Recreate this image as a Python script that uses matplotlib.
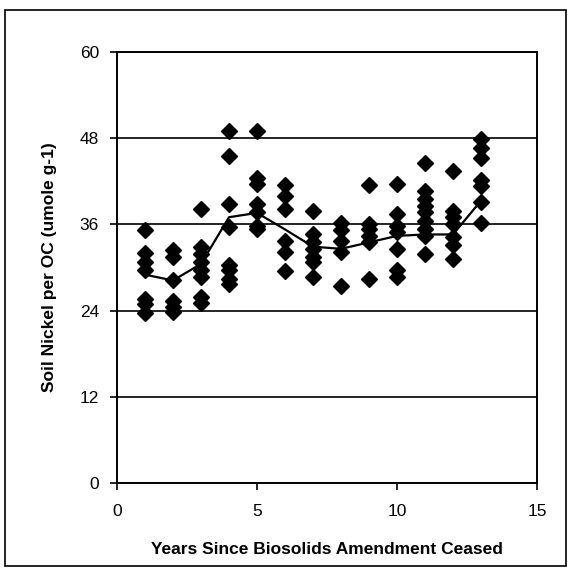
import matplotlib.pyplot as plt
from matplotlib.patches import Rectangle

plt.rcParams['font.family'] = ['Liberation Sans', 'DejaVu Sans']

years = [1, 2, 3, 4, 5, 6, 7, 8, 9, 10, 11, 12, 13]

# soil Ni per OC, individual samples per year
g1 = [35.2, 32.0, 30.8, 29.6, 25.6, 24.9, 23.6]
g2 = [32.4, 31.4, 28.2, 25.4, 24.5, 23.8]
g3 = [38.2, 32.8, 31.9, 30.7, 29.6, 28.7, 25.9, 25.0]
g4 = [49.0, 45.5, 38.9, 35.6, 30.3, 29.6, 28.4, 27.7]
g5 = [49.0, 42.5, 41.6, 38.8, 37.7, 35.8, 35.4]
g6 = [41.5, 39.9, 38.2, 33.75, 32.1, 29.5]
g7 = [37.9, 34.7, 33.5, 32.6, 31.4, 30.7, 28.7]
g8 = [36.2, 35.2, 33.75, 32.2, 27.4]
g9 = [41.5, 36.1, 35.4, 34.4, 33.5, 28.4]
g10 = [41.6, 37.5, 35.8, 34.9, 32.6, 29.6, 28.7]
g11 = [44.6, 40.7, 39.5, 38.6, 37.7, 36.5, 35.4, 34.4, 31.9]
g12 = [43.5, 37.9, 37.0, 36.1, 34.2, 33.1, 31.2]
g13 = [47.9, 46.6, 45.3, 42.2, 41.4, 39.1, 36.2]
groups = [g1, g2, g3, g4, g5, g6, g7, g8, g9, g10, g11, g12, g13]

# mean line
mean_line = [29.0, 28.2, 30.5, 37.0, 37.6, 35.3, 32.9, 32.6, 33.5, 34.4, 34.6, 34.6, 39.3]

fig = plt.figure(figsize=(5.73, 5.70), dpi=100)
ax = fig.add_axes([117/573, 1 - 483/570, 420/573, 431/570])

for yr, g in zip(years, groups):
    ax.plot([yr] * len(g), g, linestyle='none', marker='D', markersize=8,
            color='black', zorder=3)
ax.plot(years, mean_line, color='black', lw=1.6, zorder=4)

ax.set_xlim(0, 15)
ax.set_ylim(0, 60)
ax.set_xticks([0, 5, 10, 15])
ax.set_yticks([0, 12, 24, 36, 48, 60])
ax.yaxis.grid(True, color='black', lw=1.2)
ax.set_axisbelow(True)
for s in ax.spines.values():
    s.set_linewidth(1.4)
ax.tick_params(axis='both', labelsize=12.5, length=5, width=1.2, direction='out')
ax.tick_params(axis='y', pad=8)
ax.tick_params(axis='x', pad=10)

ax.set_ylabel('Soil Nickel per OC (umole g-1)', fontsize=12.5, fontweight='bold', labelpad=16)
ax.set_xlabel('Years Since Biosolids Amendment Ceased', fontsize=12.5, fontweight='bold', labelpad=17)

# outer frame
fig.patches.append(Rectangle((5/573, 1 - 566/570), 561/573, 556/570, transform=fig.transFigure,
                             fill=False, edgecolor='black', lw=1.2))

fig.savefig('out.png', dpi=100)
